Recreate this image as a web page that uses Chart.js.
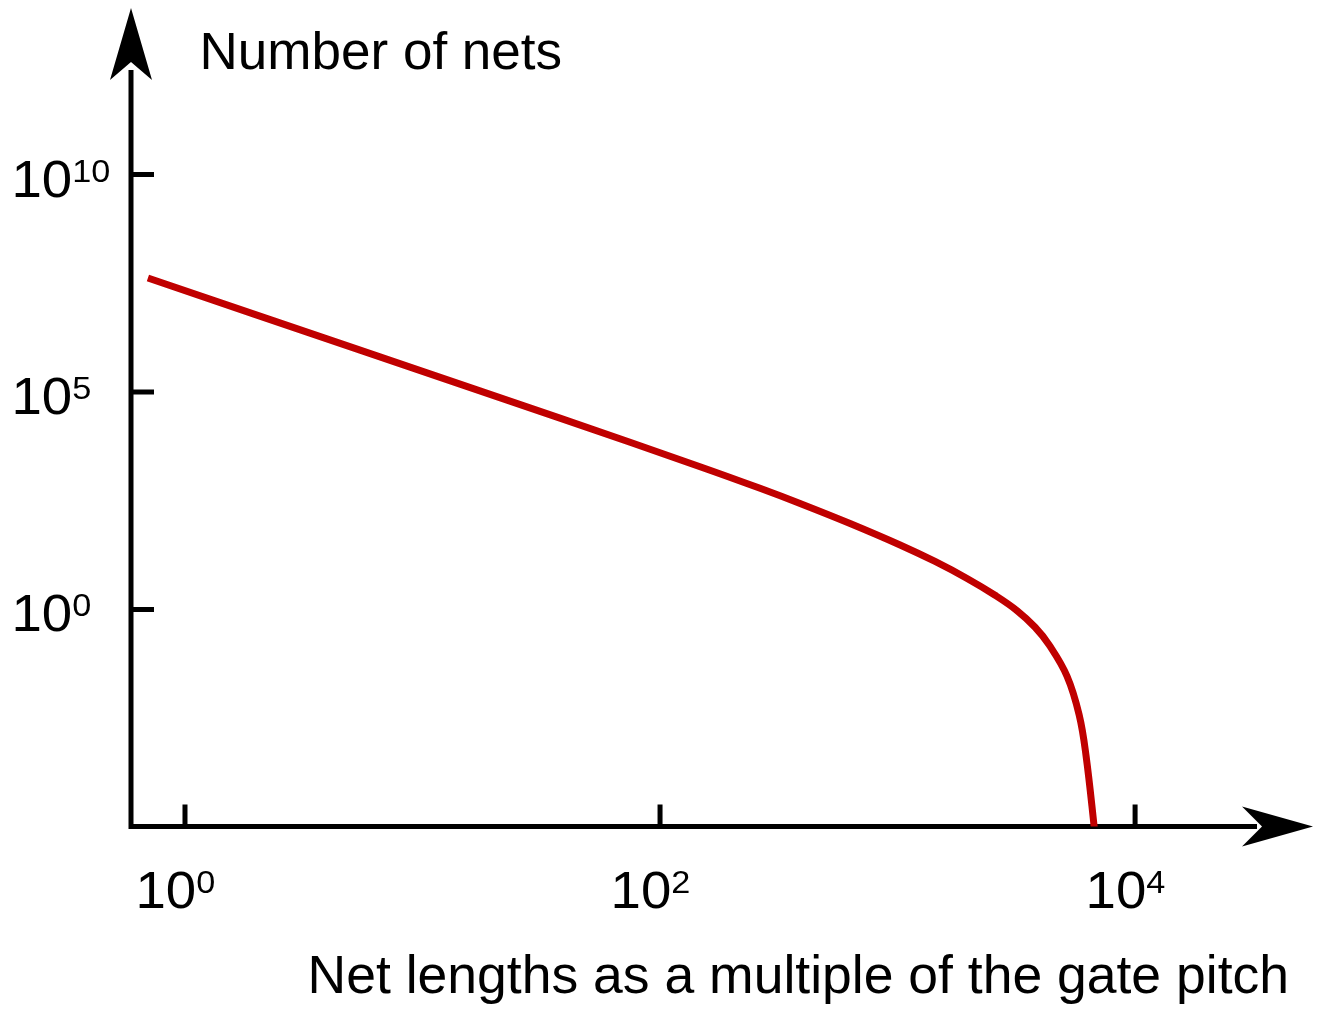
<!DOCTYPE html>
<html>
<head>
<meta charset="utf-8">
<script src="https://cdn.jsdelivr.net/npm/chart.js@4.4.0/dist/chart.umd.min.js"></script>
<style>
  html, body { margin: 0; padding: 0; background: #fff; }
  canvas { display: block; }
</style>
</head>
<body>
<canvas id="netChart" width="1319" height="1016"></canvas>
<script>
// Values (both axes logarithmic)
const netLengths = [0.698, 5.46, 37.9, 147.4, 263.7, 388.7, 631, 1025, 1438, 1962, 2574, 3186, 3793, 4345, 5172, 5811, 6218, 6786];
const netCounts = [4.18e7, 9.18e5, 2.51e4, 1919, 611, 273.5, 94.8, 30.4, 12.7, 5.16, 2.12, 0.938, 0.390, 0.154, 0.0291, 0.00382, 0.000429, 6.5e-6];

// Tick labels: base 10 with superscript exponent
const xTickValues = [1, 100, 10000];
const xTickExps = ['0', '2', '4'];
const yTickValues = [1, 1e5, 1e10];
const yTickExps = ['0', '5', '10'];

const yTitle = 'Number of nets';
const xTitle = 'Net lengths as a multiple of the gate pitch';

const FONT = '"Liberation Sans", Arial, Helvetica, sans-serif';

// text with a slight horizontal stretch, like the original drawing
function drawText(ctx, text, x, y, size, sx, align) {
    ctx.save();
    ctx.font = size + 'px ' + FONT;
    ctx.textAlign = align || 'left';
    ctx.textBaseline = 'alphabetic';
    ctx.translate(x, y);
    ctx.scale(sx, 1);
    ctx.fillText(text, 0, 0);
    const w = ctx.measureText(text).width * sx;
    ctx.restore();
    return w;
}

// Draws the arrowed axes, inward ticks and the power-of-ten labels
const axesPlugin = {
    id: 'axesPlugin',
    beforeDatasetsDraw(chart) {
        const ctx = chart.ctx;
        const area = chart.chartArea;
        const xs = chart.scales.x;
        const ys = chart.scales.y;

        ctx.save();
        ctx.strokeStyle = '#000';
        ctx.fillStyle = '#000';
        ctx.lineWidth = 5;

        // axis lines
        ctx.beginPath();
        ctx.moveTo(area.left, area.bottom + 2.5);
        ctx.lineTo(area.left, area.top + 62);
        ctx.moveTo(area.left - 2.5, area.bottom);
        ctx.lineTo(area.right - 56, area.bottom);
        ctx.stroke();

        // arrow heads
        ctx.beginPath();
        ctx.moveTo(area.left, area.top);
        ctx.lineTo(area.left + 21, area.top + 72);
        ctx.lineTo(area.left, area.top + 54);
        ctx.lineTo(area.left - 21, area.top + 72);
        ctx.closePath();
        ctx.fill();

        ctx.beginPath();
        ctx.moveTo(area.right, area.bottom);
        ctx.lineTo(area.right - 71, area.bottom - 20);
        ctx.lineTo(area.right - 51, area.bottom);
        ctx.lineTo(area.right - 71, area.bottom + 20);
        ctx.closePath();
        ctx.fill();

        // ticks (pointing inward)
        ctx.beginPath();
        yTickValues.forEach(v => {
            const py = ys.getPixelForValue(v);
            ctx.moveTo(area.left, py);
            ctx.lineTo(area.left + 23, py);
        });
        xTickValues.forEach(v => {
            const px = xs.getPixelForValue(v);
            ctx.moveTo(px, area.bottom);
            ctx.lineTo(px, area.bottom - 22);
        });
        ctx.stroke();

        // tick labels
        const sx = 1.07;
        yTickValues.forEach((v, i) => {
            const base = ys.getPixelForValue(v) + 22;
            const w = drawText(ctx, '10', 11.5, base, 51, sx);
            drawText(ctx, yTickExps[i], 11.5 + w, base - 15, 32, sx);
        });

        xTickValues.forEach((v, i) => {
            const left = xs.getPixelForValue(v) - 49.5;
            const w = drawText(ctx, '10', left, 908, 51, sx);
            drawText(ctx, xTickExps[i], left + w, 893, 32, sx);
        });

        // axis titles
        drawText(ctx, yTitle, 199.5, 69, 51, 1.04);
        drawText(ctx, xTitle, 1289, 993, 53.5, 1, 'right');

        ctx.restore();
    }
};

new Chart(document.getElementById('netChart'), {
    type: 'line',
    data: {
        datasets: [{
            data: netLengths.map((v, i) => ({ x: v, y: netCounts[i] })),
            borderColor: '#c00000',
            borderWidth: 7,
            borderCapStyle: 'butt',
            pointRadius: 0,
            fill: false,
            tension: 0.4,
            clip: { left: 20, top: 20, right: 20, bottom: 0 }
        }]
    },
    options: {
        responsive: false,
        animation: false,
        devicePixelRatio: 1,
        layout: {
            padding: { left: 131, right: 6, top: 8, bottom: 189.5 }
        },
        plugins: {
            legend: { display: false },
            tooltip: { enabled: false },
            title: { display: false }
        },
        scales: {
            x: { type: 'logarithmic', display: false, min: 0.5925, max: 56105 },
            y: { type: 'logarithmic', display: false, min: 1.023e-5, max: 6.76e13 }
        }
    },
    plugins: [axesPlugin]
});
</script>
</body>
</html>
